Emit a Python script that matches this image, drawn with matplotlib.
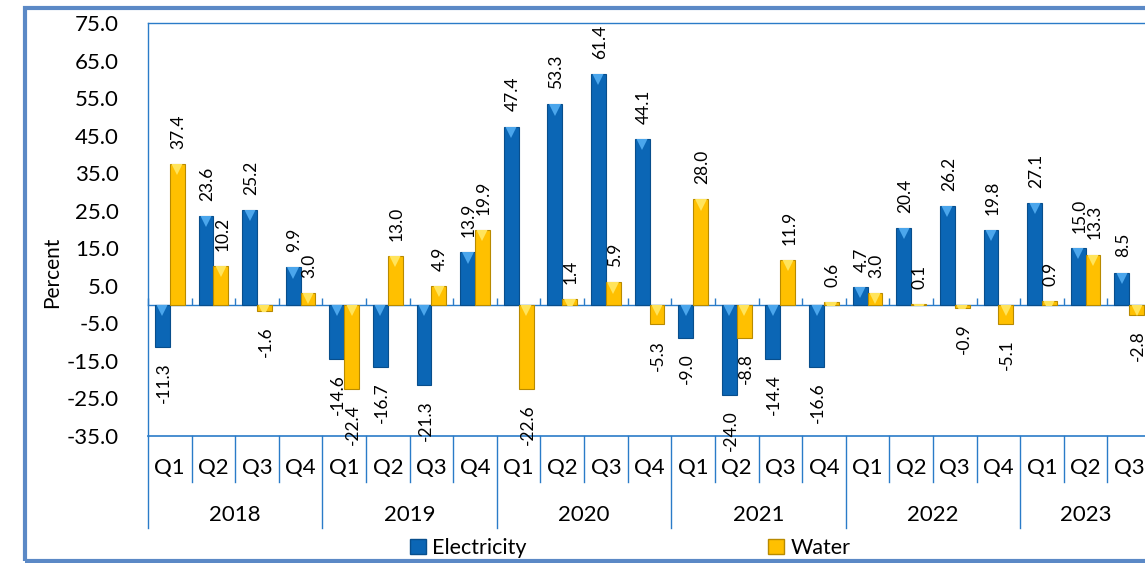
import matplotlib
matplotlib.use("Agg")
import matplotlib.pyplot as plt
import matplotlib.transforms as mtransforms
from matplotlib.patches import Rectangle, Patch
import numpy as np

plt.rcParams['font.family'] = ['Lato', 'DejaVu Sans']

years = ["2018", "2019", "2020", "2021", "2022", "2023"]
quarters = ["Q1", "Q2", "Q3", "Q4", "Q1", "Q2", "Q3", "Q4", "Q1", "Q2", "Q3", "Q4",
            "Q1", "Q2", "Q3", "Q4", "Q1", "Q2", "Q3", "Q4", "Q1", "Q2", "Q3"]
quarters_per_year = [4, 4, 4, 4, 4, 3]
electricity = [-11.3, 23.6, 25.2, 9.9, -14.6, -16.7, -21.3, 13.9, 47.4, 53.3, 61.4, 44.1,
               -9.0, -24.0, -14.4, -16.6, 4.7, 20.4, 26.2, 19.8, 27.1, 15.0, 8.5]
water = [37.4, 10.2, -1.6, 3.0, -22.4, 13.0, 4.9, 19.9, -22.6, 1.4, 5.9, -5.3,
         28.0, -8.8, 11.9, 0.6, 3.0, 0.1, -0.9, -5.1, 0.9, 13.3, -2.8]
yticks = [75.0, 65.0, 55.0, 45.0, 35.0, 25.0, 15.0, 5.0, -5.0, -15.0, -25.0, -35.0]

BLUE = "#0B66B5"
BLUE_EDGE = "#084E8C"
BLUE_HI = "#4BA6EC"
GOLD = "#FFC000"
GOLD_EDGE = "#B88A00"
GOLD_HI = "#FFE45C"
AX_COL = "#2A7BC8"

W, H = 1145, 563
fig = plt.figure(figsize=(W / 100, H / 100), dpi=100)

# figure border
fig.patches.append(Rectangle((25 / W, 1 - 561 / H), 1.2, (561 - 8) / H,
                             transform=fig.transFigure, fill=False,
                             edgecolor="#5B89C6", linewidth=3.0, zorder=0))

left, right = 148, 1151
top, bottom = 23, 436
ax = fig.add_axes([left / W, 1 - bottom / H, (right - left) / W, (bottom - top) / H])

n = len(quarters)
x = np.arange(n)
bw = 0.34
off = 0.17

bars_e = ax.bar(x - off, electricity, bw, color=BLUE, edgecolor=BLUE_EDGE, linewidth=0.8, zorder=3)
bars_w = ax.bar(x + off, water, bw, color=GOLD, edgecolor=GOLD_EDGE, linewidth=0.8, zorder=3)

# bevel highlight triangles at the top of each bar, clipped to the bar
shift = mtransforms.ScaledTranslation(0, -3.0 / 72, fig.dpi_scale_trans)
for bars, vals, hi in ((bars_e, electricity, BLUE_HI), (bars_w, water, GOLD_HI)):
    for b, xi, v in zip(bars, (x - off) if bars is bars_e else (x + off), vals):
        (m,) = ax.plot([xi], [max(v, 0)], marker="v", markersize=10, color=hi,
                       markeredgewidth=0, linestyle="none", zorder=4,
                       transform=ax.transData + shift)
        m.set_clip_path(b)

# data labels
lab_fs = 12.5
for xs, vals in ((x - off, electricity), (x + off, water)):
    for xi, v in zip(xs, vals):
        if v >= 0:
            ax.annotate(f"{v:.1f}", (xi, v), xytext=(1, 11), textcoords="offset points",
                        rotation=90, ha="center", va="bottom", fontsize=lab_fs,
                        color="black", zorder=5, annotation_clip=False)
        else:
            ax.annotate(f"{v:.1f}", (xi, v), xytext=(1, -11), textcoords="offset points",
                        rotation=90, ha="center", va="top", fontsize=lab_fs,
                        color="black", zorder=5, annotation_clip=False)

ax.set_xlim(-0.5, n - 0.5)
ax.set_ylim(-35, 75)
ax.set_yticks(yticks)
ax.set_yticklabels([f"{t:.1f}" for t in yticks])
ax.tick_params(axis="y", length=0, pad=21, labelsize=16)

# x axis crossing at zero with inward boundary ticks
ax.spines["bottom"].set_position(("data", 0))
ax.set_xticks([])
ax.set_xticks(np.arange(n + 1) - 0.5, minor=True)
ax.tick_params(axis="x", which="minor", direction="in", length=5, width=1, color=AX_COL,
               labelbottom=False)
ax.tick_params(axis="x", which="major", length=0, labelbottom=False)
for s in ("left", "top", "bottom", "right"):
    ax.spines[s].set_color(AX_COL)
    ax.spines[s].set_linewidth(1.0)

# bottom border of plot area
ax.axhline(-35, color=AX_COL, lw=1.2, zorder=2, clip_on=False)

# category table below
trans = mtransforms.blended_transform_factory(ax.transData, ax.transAxes)
ph = bottom - top
yq_line = -(482 - bottom) / ph
yy_line = -(528 - bottom) / ph
yq_text = -(468 - bottom) / ph
yy_text = -(515 - bottom) / ph

year_bounds = np.cumsum([0] + quarters_per_year)
for k in range(n + 1):
    yend = yy_line if k in year_bounds[:-1] else yq_line
    ax.plot([k - 0.5, k - 0.5], [0, yend], color=AX_COL, lw=1.0, transform=trans,
            clip_on=False)
for i, q in enumerate(quarters):
    ax.text(i, yq_text, q, transform=trans, ha="center", va="center", fontsize=16)
for j, yr in enumerate(years):
    c = (year_bounds[j] + year_bounds[j + 1] - 1) / 2
    ax.text(c, yy_text, yr, transform=trans, ha="center", va="center", fontsize=16)

fig.text(52 / W, 1 - 272 / H, "Percent", rotation=90, ha="center", va="center", fontsize=15)

handles = [Patch(facecolor=BLUE, edgecolor=BLUE_EDGE), Patch(facecolor=GOLD, edgecolor=GOLD_EDGE)]
fig.legend(handles, ["Electricity", "Water"], loc="center", bbox_to_anchor=(630 / W, 1 - 548 / H),
           ncol=2, frameon=False, fontsize=15.5, handlelength=0.75, handleheight=0.75,
           handletextpad=0.3, columnspacing=11.2, borderaxespad=0)

fig.savefig("out.png", dpi=100)
